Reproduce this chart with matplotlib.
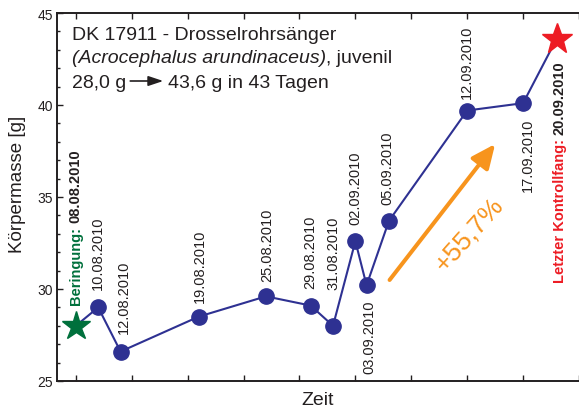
import matplotlib
matplotlib.use('Agg')
import matplotlib.pyplot as plt
from matplotlib.transforms import IdentityTransform
import numpy as np
import pandas as pd

plt.rcParams['font.family'] = ['Liberation Sans', 'DejaVu Sans']

# Messungen (Datum, Körpermasse in g)
dates = ['08.08.2010', '10.08.2010', '12.08.2010', '19.08.2010', '25.08.2010',
         '29.08.2010', '31.08.2010', '02.09.2010', '03.09.2010', '05.09.2010',
         '12.09.2010', '17.09.2010', '20.09.2010']
mass = [28.0, 29.0, 26.6, 28.5, 29.6, 29.1, 28.0, 32.6, 30.2, 33.7, 39.7, 40.1, 43.6]

t = pd.to_datetime(dates, format='%d.%m.%Y')
days = np.asarray((t - t[0]).days, dtype=float)
mass = np.array(mass)

# label placement (pixel offset from point), None = special label
label_pos = [None, (0, 18), (3, 19), (1, 15), (1, 15), (0, 18), (0, 37),
             (0, 17), (3, -14), (-2, 17), (0, 13), (5, -14), None]

BLACK = '#231f20'
BLUE = '#2e3192'
GREEN = '#00703c'
RED = '#ed1c24'
ORANGE = '#f7941d'

W, H = 579, 410
fig = plt.figure(figsize=(W / 100, H / 100), dpi=100)
ax = fig.add_axes([57 / W, 28 / H, 522 / W, 368 / H])

ax.plot(days, mass, color=BLUE, lw=1.5, zorder=2)
ax.plot(days[1:-1], mass[1:-1], 'o', ms=11, color=BLUE, zorder=3)
ax.plot(days[:1], mass[:1], '*', ms=21, color=GREEN, zorder=4)
ax.plot(days[-1:], mass[-1:], '*', ms=23, color=RED, zorder=4, clip_on=False)

ax.set_xlim(-1.685, 44.6)
ax.set_ylim(25, 45)
ax.set_xticks(np.arange(0, 46, 5))
ax.set_xticklabels([])
ax.set_yticks(np.arange(25, 46, 5))
ax.set_yticks(np.arange(25, 46, 1), minor=True)
ax.tick_params(which='both', direction='in', top=True, right=False,
               color=BLACK, width=1)
ax.tick_params(which='major', length=4, labelsize=10, pad=3, labelcolor=BLACK)
ax.tick_params(which='minor', length=2.5)
for s in ['left', 'bottom', 'top']:
    ax.spines[s].set_linewidth(1.4)
    ax.spines[s].set_color(BLACK)
ax.spines['right'].set_visible(False)

ax.set_xlabel('Zeit', fontsize=14, labelpad=4.5, color=BLACK)
ax.set_ylabel('Körpermasse [g]', fontsize=13.5, color=BLACK)
ax.yaxis.set_label_coords(-0.0594, 0.538)

fig.canvas.draw()
renderer = fig.canvas.get_renderer()
px = IdentityTransform()


def put(x, y, s, **kw):
    kw.setdefault('color', BLACK)
    return fig.text(x, y, s, transform=px, **kw)


def ext(txt):
    return txt.get_window_extent(renderer)


# Kopftext
fs = 14
tx = put(72, H - 40, 'DK 17911 - Drosselrohrsänger', fontsize=fs, va='baseline')
tx = put(72, H - 63, '(Acrocephalus arundinaceus)', fontsize=fs, va='baseline', style='italic')
put(72 + ext(tx).width, H - 63, ', juvenil', fontsize=fs, va='baseline')
tx = put(72, H - 88, '28,0 g', fontsize=fs, va='baseline')
x0 = 72 + ext(tx).width + 4
ax.annotate('', xy=(x0 + 33, H - 82), xytext=(x0, H - 82),
            xycoords='figure pixels', textcoords='figure pixels',
            arrowprops=dict(arrowstyle='-|>,head_length=0.9,head_width=0.3',
                            color=BLACK, lw=1.2, shrinkA=0, shrinkB=0,
                            mutation_scale=10))
put(x0 + 38, H - 88, '43,6 g in 43 Tagen', fontsize=fs, va='baseline')

# Datumsbeschriftungen
for d, m, s, pos in zip(days, mass, dates, label_pos):
    if pos is None:
        continue
    dx, dy = pos
    ax.annotate(s, (d, m), xytext=(dx, dy), textcoords='offset pixels',
                rotation=90, ha='center', va='bottom' if dy > 0 else 'top',
                fontsize=10.5, color=BLACK)

# Beringung
sx, sy = ax.transData.transform((days[0], mass[0]))
t1 = put(sx, sy + 22, 'Beringung:', rotation=90, ha='center', va='bottom',
         fontsize=10.5, weight='bold', color=GREEN)
put(sx, sy + 22 + ext(t1).height + 4, dates[0], rotation=90, ha='center',
    va='bottom', fontsize=10.5, weight='bold')

# Letzter Kontrollfang
ex, ey = ax.transData.transform((days[-1], mass[-1]))
t2 = put(ex + 3, ey - 22, dates[-1], rotation=90, ha='center', va='top',
         fontsize=10.5, weight='bold')
put(ex + 3, ey - 22 - ext(t2).height - 4, 'Letzter Kontrollfang:', rotation=90,
    ha='center', va='top', fontsize=10.5, weight='bold', color=RED)

# Zunahme
ax.annotate('', xy=(37.5, 37.88), xytext=(28.06, 30.49),
            arrowprops=dict(arrowstyle='-|>,head_length=1.45,head_width=0.65',
                            color=ORANGE, lw=2.9, shrinkA=0, shrinkB=0,
                            mutation_scale=10))
ax.text(35.2, 33.0, '+55,7%', rotation=48, rotation_mode='anchor',
        ha='center', va='center', fontsize=19, color=ORANGE)

fig.savefig('out.png', dpi=100)
